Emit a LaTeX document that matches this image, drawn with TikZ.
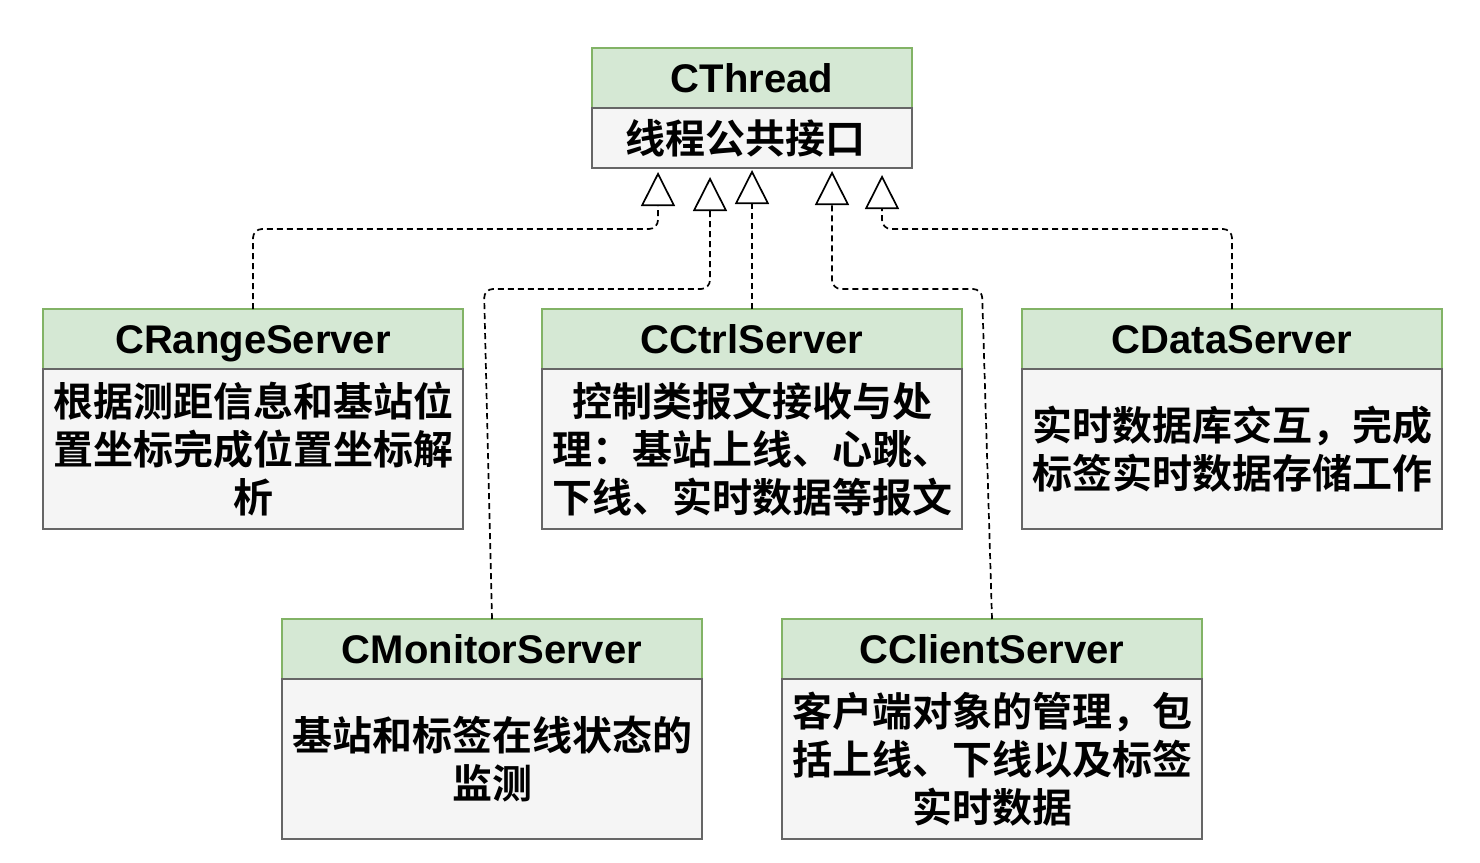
\documentclass[tikz,border=0pt]{standalone}
\usepackage{fontspec}
\setmainfont{Liberation Sans}
\newfontfamily\cjk{Noto Sans CJK SC Bold}
\usetikzlibrary{arrows.meta,positioning}

\definecolor{namefill}{HTML}{D5E8D4}
\definecolor{nameline}{HTML}{82B366}
\definecolor{bodyfill}{HTML}{F5F5F5}
\definecolor{bodyline}{HTML}{666666}

\tikzset{
  classname/.style={draw=nameline, fill=namefill, line width=2pt,
    minimum width=420pt, minimum height=60pt, inner sep=0pt, outer sep=0pt,
    text height=32pt, text depth=4pt,
    font=\fontsize{40}{48}\selectfont\bfseries},
  classbody/.style={draw=bodyline, fill=bodyfill, line width=2pt,
    minimum width=420pt, minimum height=160pt, inner sep=0pt, outer sep=0pt,
    align=center, font=\fontsize{40}{48}\selectfont\cjk},
  realize/.style={line width=1.7pt, dash pattern=on 6pt off 4pt,
    rounded corners=9pt, -{Triangle[open, length=34pt, width=34pt]}}
}

\begin{document}
\begin{tikzpicture}[x=1pt, y=-1pt]
  \useasboundingbox (0,0) rectangle (1480,862);

  % base class
  \node[classname, minimum width=320pt] (thread) at (752,78) {CThread};
  \node[classbody, minimum width=320pt, minimum height=60pt] (threadbody) [below=0pt of thread] {\hspace*{-14pt}线程公共接口};

  % first row
  \node[classname] (range) at (253,339) {CRangeServer};
  \node[classbody] (rangebody) [below=0pt of range] {根据测距信息和基站位\\置坐标完成位置坐标解\\析};

  \node[classname] (ctrl) at (752,339) {CCtrlServer};
  \node[classbody] (ctrlbody) [below=0pt of ctrl] {控制类报文接收与处\\理：基站上线、心跳、\\下线、实时数据等报文};

  \node[classname] (data) at (1232,339) {CDataServer};
  \node[classbody] (databody) [below=0pt of data] {实时数据库交互，完成\\标签实时数据存储工作};

  % second row
  \node[classname] (monitor) at (492,649) {CMonitorServer};
  \node[classbody] (monitorbody) [below=0pt of monitor] {基站和标签在线状态的\\监测};

  \node[classname] (client) at (992,649) {CClientServer};
  \node[classbody] (clientbody) [below=0pt of client] {客户端对象的管理，包\\括上线、下线以及标签\\实时数据};

  % bends
  \coordinate (rangebend)   at (253,229);
  \coordinate (monitorbend) at (484,289);
  \coordinate (clientbend)  at (982,289);
  \coordinate (databend)    at (1232,229);

  % inheritance
  \draw[realize, shorten >=4pt] (range.north) -- (rangebend) -| ([xshift=-94pt]threadbody.south);
  \draw[realize, shorten >=9pt] (monitor.north) -- (monitorbend) -| ([xshift=-42pt]threadbody.south);
  \draw[realize, shorten >=2pt] (ctrl.north) -- (threadbody.south);
  \draw[realize, shorten >=3pt] (client.north) -- (clientbend) -| ([xshift=80pt]threadbody.south);
  \draw[realize, shorten >=7pt] (data.north) -- (databend) -| ([xshift=130pt]threadbody.south);
\end{tikzpicture}
\end{document}
